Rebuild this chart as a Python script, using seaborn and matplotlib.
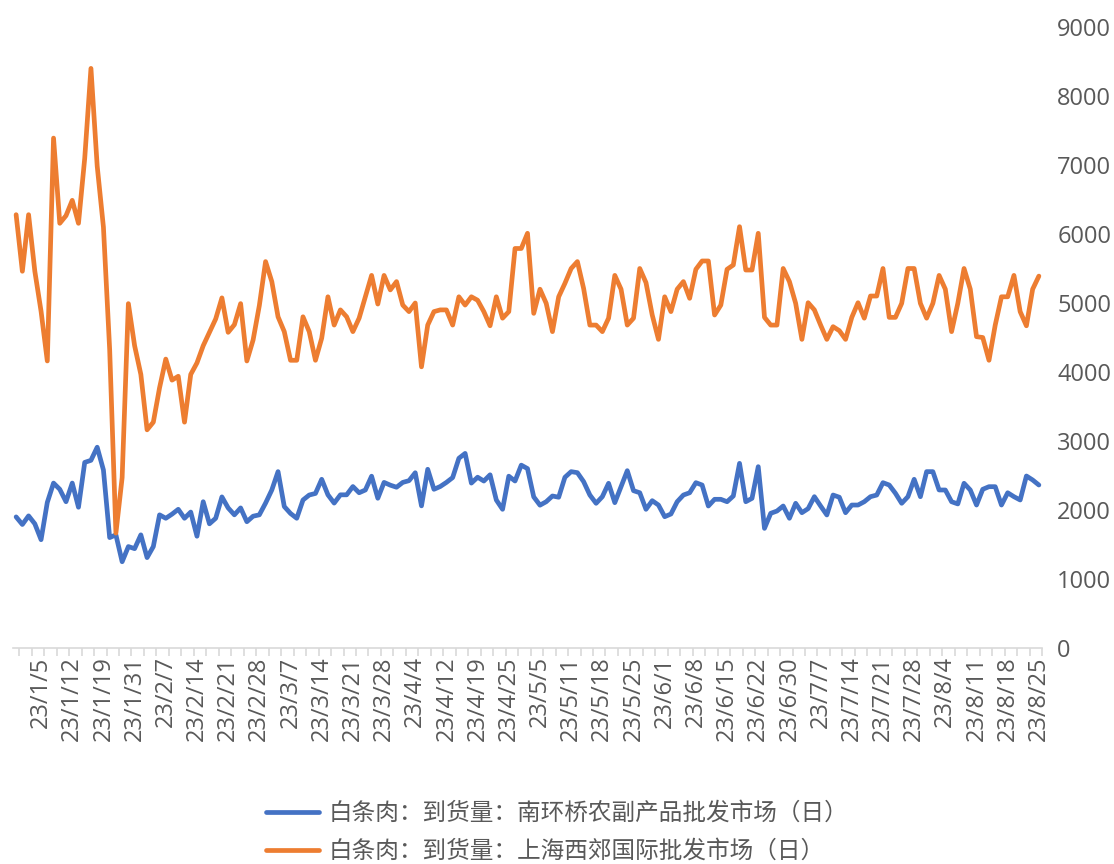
import numpy as np
import pandas as pd
import seaborn as sns
import matplotlib.pyplot as plt

# tick labels shown every 5 trading days
dates = ['23/1/5', '23/1/12', '23/1/19', '23/1/31', '23/2/7', '23/2/14', '23/2/21', '23/2/28',
         '23/3/7', '23/3/14', '23/3/21', '23/3/28', '23/4/4', '23/4/12', '23/4/19', '23/4/25',
         '23/5/5', '23/5/11', '23/5/18', '23/5/25', '23/6/1', '23/6/8', '23/6/15', '23/6/22',
         '23/6/30', '23/7/7', '23/7/14', '23/7/21', '23/7/28', '23/8/4', '23/8/11', '23/8/18',
         '23/8/25']

name_nhq = '白条肉：到货量：南环桥农副产品批发市场（日）'
name_xj = '白条肉：到货量：上海西郊国际批发市场（日）'

# 南环桥
nhq = [1900, 1790, 1915, 1800, 1570, 2110, 2390, 2300, 2120, 2390,
       2040, 2690, 2720, 2910, 2580, 1600, 1640, 1250, 1470, 1440,
       1640, 1310, 1470, 1930, 1880, 1940, 2010, 1880, 1970, 1620,
       2120, 1800, 1880, 2190, 2030, 1930, 2030, 1830, 1910, 1930,
       2100, 2290, 2556, 2050, 1950, 1880, 2145, 2217, 2240, 2445,
       2220, 2100, 2220, 2220, 2340, 2250, 2290, 2490, 2170, 2400,
       2360, 2330, 2400, 2425, 2540, 2060, 2590, 2300, 2340, 2400,
       2470, 2750, 2820, 2390, 2475, 2420, 2510, 2145, 2010, 2490,
       2420, 2650, 2600, 2190, 2070, 2120, 2203, 2185, 2474, 2556,
       2541, 2411, 2217, 2097, 2193, 2387, 2106, 2338, 2570, 2280,
       2250, 2010, 2135, 2072, 1903, 1942, 2120, 2217, 2250, 2396,
       2362, 2058, 2155, 2155, 2120, 2203, 2676, 2120, 2169, 2628,
       1734, 1952, 1985, 2058, 1880, 2097, 1961, 2020, 2193, 2058,
       1928, 2217, 2185, 1961, 2072, 2072, 2120, 2193, 2217, 2396,
       2362, 2242, 2097, 2193, 2445, 2193, 2556, 2556, 2290, 2290,
       2120, 2088, 2387, 2290, 2072, 2300, 2338, 2338, 2072, 2250,
       2193, 2145, 2493, 2435, 2362]

# 上海西郊
xj = [6280, 5460, 6280, 5460, 4880, 4160, 7390, 6155, 6266, 6488,
      6155, 7097, 8400, 6986, 6100, 4326, 1665, 2469, 4991, 4381,
      3965, 3162, 3273, 3771, 4187, 3882, 3938, 3273, 3965, 4132,
      4381, 4575, 4769, 5074, 4575, 4686, 4991, 4160, 4464, 4963,
      5600, 5310, 4800, 4585, 4170, 4170, 4800, 4585, 4170, 4490,
      5090, 4680, 4900, 4800, 4585, 4780, 5090, 5400, 4985, 5400,
      5190, 5310, 4970, 4875, 5000, 4075, 4680, 4875, 4900, 4900,
      4680, 5090, 4970, 5090, 5040, 4875, 4670, 5090, 4780, 4875,
      5790, 5790, 6010, 4850, 5200, 4995, 4585, 5090, 5285, 5500,
      5600, 5210, 4680, 4680, 4585, 4780, 5400, 5200, 4680, 4780,
      5500, 5295, 4826, 4473, 5090, 4875, 5200, 5310, 5068, 5488,
      5609, 5609, 4826, 4970, 5488, 5551, 6106, 5478, 5478, 6010,
      4792, 4680, 4680, 5500, 5310, 4995, 4473, 5004, 4900, 4680,
      4473, 4657, 4599, 4473, 4792, 5004, 4780, 5101, 5101, 5500,
      4792, 4792, 4995, 5500, 5500, 4995, 4780, 4995, 5400, 5200,
      4585, 4995, 5500, 5200, 4512, 4500, 4170, 4680, 5090, 5090,
      5400, 4875, 4670, 5200, 5390]

assert len(nhq) == len(xj) == 165

sns.set_theme(style='white')
plt.rcParams['font.family'] = ['Open Sans', 'Noto Sans CJK SC', 'DejaVu Sans']

df = pd.DataFrame({'idx': np.arange(len(xj)), name_nhq: nhq, name_xj: xj})
df = df.melt('idx', var_name='series', value_name='value')

fig = plt.figure(figsize=(11.14, 8.64), dpi=100)
ax = fig.add_axes([13 / 1114, 0.25, 1029 / 1114, 621 / 864])

sns.lineplot(data=df, x='idx', y='value', hue='series', hue_order=[name_nhq, name_xj],
             palette=['#4472C4', '#ED7D31'], linewidth=3.4, ax=ax, legend=False)
for line in ax.get_lines():
    line.set_solid_capstyle('round')
    line.set_solid_joinstyle('round')

ax.set_xlim(-0.5, len(xj) - 0.5)
ax.set_ylim(0, 9000)
ax.set_xlabel('')
ax.set_ylabel('')

# y axis on the right, no ticks
ax.yaxis.tick_right()
ax.set_yticks(range(0, 9001, 1000))
ax.tick_params(axis='y', length=0, pad=11, labelsize=17, labelcolor='#595959')

# x labels every 5 points, small tick marks every 2
ax.set_xticks(list(range(4, len(xj), 5)))
ax.set_xticklabels(dates, rotation=90)
ax.set_xticks(np.arange(0.5, len(xj), 2), minor=True)
ax.tick_params(axis='x', which='major', bottom=True, length=0, pad=6,
               labelsize=17, labelcolor='#595959')
ax.tick_params(axis='x', which='minor', bottom=True, length=6, width=1.2,
               color='#d9d9d9', direction='out')

for side in ['left', 'right', 'top']:
    ax.spines[side].set_visible(False)
ax.spines['bottom'].set_color('#d9d9d9')
ax.spines['bottom'].set_linewidth(1.2)

leg = fig.legend(handles=ax.get_lines(), labels=[name_nhq, name_xj], loc='center',
                 bbox_to_anchor=(0.5, 0.036), ncol=1, frameon=False, fontsize=17,
                 handlelength=2.25, labelspacing=0.6, handletextpad=0.42)
for t in leg.get_texts():
    t.set_color('#595959')

fig.savefig('out.png', dpi=100)
